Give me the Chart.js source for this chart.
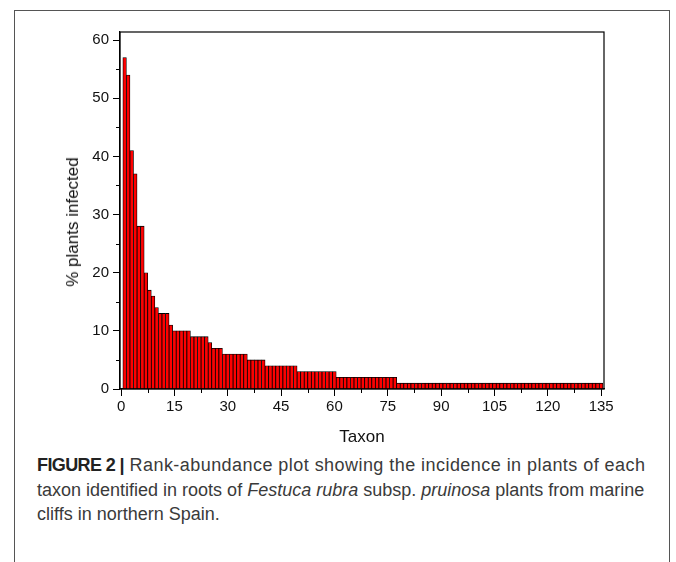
<!DOCTYPE html>
<html>
<head>
<meta charset="utf-8">
<script src="https://cdn.jsdelivr.net/npm/chart.js@4"></script>
<style>
  html, body { margin: 0; padding: 0; background: #fff; }
  body { width: 676px; height: 562px; position: relative; overflow: hidden; }
  #frame {
    position: absolute; left: 14px; top: 10px; width: 656px; height: 600px;
    border: 1.5px solid #555; box-sizing: border-box;
  }
  #chart { position: absolute; left: 0; top: 0; }
  #ytitle {
    position: absolute; left: 73px; top: 222px; white-space: nowrap;
    transform: translate(-50%, -50%) rotate(-90deg);
    font-family: "Liberation Sans", Arial, sans-serif; font-size: 17px; color: #111;
  }
  #caption {
    position: absolute; left: 37px; top: 453px;
    font-family: "Liberation Sans", Arial, sans-serif; font-size: 18px;
    line-height: 24.5px; color: #3a3a3a;
  }
  #caption span { display: block; white-space: nowrap; }
  #caption b { color: #222; letter-spacing: -0.6px; }
</style>
</head>
<body>
<div id="frame"></div>
<canvas id="chart" width="676" height="452"></canvas>
<div id="ytitle">% plants infected</div>
<div id="caption"><span style="letter-spacing:0.45px"><b>FIGURE 2 |</b> Rank-abundance plot showing the incidence in plants of each</span><span>taxon identified in roots of <i>Festuca rubra</i> subsp. <i>pruinosa</i> plants from marine</span><span>cliffs in northern Spain.</span></div>
<script>
// % of plants in which each taxon was found, by rank (taxon 1..135)
const infected = [
  57, 54, 41, 37, 28, 28, 20, 17, 16, 14,
  13, 13, 13, 11, 10, 10, 10, 10, 10, 9,
  9, 9, 9, 9, 8, 7, 7, 7, 6, 6,
  6, 6, 6, 6, 6, 5, 5, 5, 5, 5,
  4, 4, 4, 4, 4, 4, 4, 4, 4, 3,
  3, 3, 3, 3, 3, 3, 3, 3, 3, 3,
  2, 2, 2, 2, 2, 2, 2, 2, 2, 2,
  2, 2, 2, 2, 2, 2, 2, 1, 1, 1,
  1, 1, 1, 1, 1, 1, 1, 1, 1, 1,
  1, 1, 1, 1, 1, 1, 1, 1, 1, 1,
  1, 1, 1, 1, 1, 1, 1, 1, 1, 1,
  1, 1, 1, 1, 1, 1, 1, 1, 1, 1,
  1, 1, 1, 1, 1, 1, 1, 1, 1, 1,
  1, 1, 1, 1, 1
];
const taxa = infected.map((v, i) => i + 1);
const xTicks = [0, 15, 30, 45, 60, 75, 90, 105, 120, 135];
const xMinor = [7.5, 22.5, 37.5, 52.5, 67.5, 82.5, 97.5, 112.5, 127.5];
const yTicks = [0, 10, 20, 30, 40, 50, 60];
const yMinor = [5, 15, 25, 35, 45, 55];

const frameAndMinor = {
  id: 'frameAndMinor',
  afterDraw(chart) {
    const { ctx, chartArea: a, scales } = chart;
    ctx.save();
    ctx.strokeStyle = '#000';
    ctx.lineWidth = 1.2;
    ctx.strokeRect(a.left, a.top, a.right - a.left, a.bottom - a.top);
    ctx.lineWidth = 1;
    ctx.beginPath();
    xMinor.forEach(v => {
      const x = Math.round(scales.x.getPixelForValue(v)) + 0.5;
      ctx.moveTo(x, a.bottom);
      ctx.lineTo(x, a.bottom + 4);
    });
    yMinor.forEach(v => {
      const y = Math.round(scales.y.getPixelForValue(v)) + 0.5;
      ctx.moveTo(a.left - 4, y);
      ctx.lineTo(a.left, y);
    });
    ctx.stroke();
    ctx.restore();
  }
};

const font = { family: '"Liberation Sans", Arial, sans-serif', size: 15 };

new Chart(document.getElementById('chart'), {
  type: 'bar',
  data: {
    datasets: [{
      label: '% plants infected',
      data: taxa.map((t, i) => ({ x: t, y: infected[i] })),
      backgroundColor: '#ff0000',
      borderColor: '#000',
      borderWidth: 0.8,
      barPercentage: 1,
      categoryPercentage: 1
    }]
  },
  options: {
    responsive: false,
    animation: false,
    layout: { padding: { top: 32, left: 60, right: 72, bottom: 0 } },
    plugins: { legend: { display: false }, tooltip: { enabled: false } },
    scales: {
      x: {
        type: 'linear',
        min: -0.3,
        max: 135.8,
        offset: false,
        grid: { offset: false, drawOnChartArea: false, tickLength: 7, color: '#000' },
        border: { color: '#000', width: 1.2 },
        ticks: { font: font, color: '#111', padding: 2, maxRotation: 0 },
        afterBuildTicks: s => { s.ticks = xTicks.map(v => ({ value: v })); },
        afterFit: s => { s.height = 63; },
        title: { display: true, text: 'Taxon', font: { family: font.family, size: 17 }, color: '#111' }
      },
      y: {
        min: 0,
        max: 61.4,
        grid: { drawOnChartArea: false, tickLength: 7, color: '#000' },
        border: { color: '#000', width: 1.2 },
        ticks: { font: font, color: '#111', padding: 4 },
        afterBuildTicks: s => { s.ticks = yTicks.map(v => ({ value: v })); },
        afterFit: s => { s.width = 60; }
      }
    }
  },
  plugins: [frameAndMinor]
});
</script>
</body>
</html>
